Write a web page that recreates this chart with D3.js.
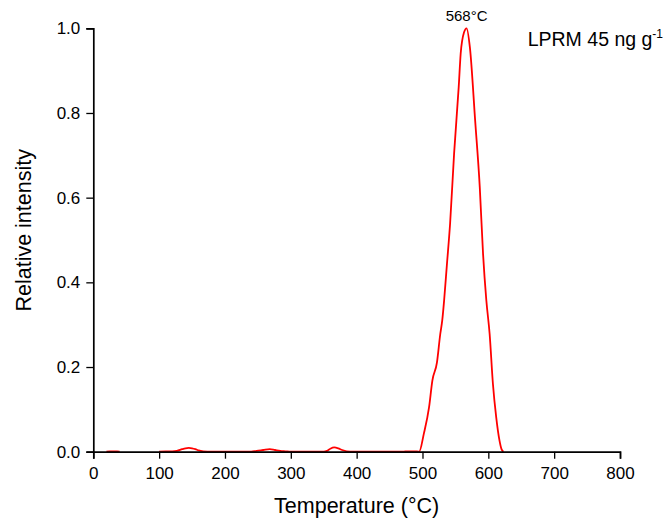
<!DOCTYPE html>
<meta charset="utf-8">
<script src="https://d3js.org/d3.v7.min.js"></script>
<style>
  body { margin: 0; background: #fff; }
  text { font-family: Arial, "Liberation Sans", sans-serif; }
</style>
<div id="my_dataviz"></div>
<script>
  // temperature (°C) and relative intensity
  var temps = [20, 25, 30, 36, 40, 60, 100, 110, 120, 127, 135, 140, 145, 150, 155, 160, 167, 180,
    240, 248, 258, 268, 276, 284, 292, 300, 350, 355, 360, 366, 372, 378, 385, 395,
    470, 478, 488, 495, 502, 510, 515, 522, 527, 530, 533, 537, 542, 548, 555, 558, 563, 567,
    572, 580, 587, 592, 597, 602, 607, 612, 617, 620, 623];
  var intensity = [0, 0.001, 0.001, 0.0005, 0, 0, 0, 0.001, 0.001, 0.002, 0.006, 0.008, 0.009, 0.008, 0.006, 0.003, 0.001, 0,
    0, 0.002, 0.004, 0.006, 0.004, 0.002, 0.001, 0, 0, 0.002, 0.007, 0.010, 0.008, 0.004, 0.001, 0,
    0, 0.001, 0.001, 0, 0.042, 0.105, 0.168, 0.211, 0.278, 0.31, 0.36, 0.44, 0.54, 0.704, 0.861, 0.94, 0.99, 1.0,
    0.955, 0.782, 0.625, 0.467, 0.357, 0.278, 0.160, 0.081, 0.026, 0.006, 0];
  var xTicks = [0, 100, 200, 300, 400, 500, 600, 700, 800];
  var yTicks = [0.0, 0.2, 0.4, 0.6, 0.8, 1.0];

  var data = temps.map(function(t, i) { return { t: t, v: intensity[i] }; });

  var W = 669, H = 519;
  var margin = { top: 28.3, right: 49, bottom: 67.3, left: 93.3 },
    width = W - margin.left - margin.right,
    height = H - margin.top - margin.bottom;

  var svg = d3.select("#my_dataviz").append("svg")
    .attr("width", W).attr("height", H)
    .append("g")
    .attr("transform", "translate(" + margin.left + "," + margin.top + ")");

  var x = d3.scaleLinear().domain([0, 800]).range([0, width]);
  var y = d3.scaleLinear().domain([0, 1]).range([height, 0]);

  // the curve - skip long flat runs at zero so the axis line stays black there
  var line = d3.line()
    .defined(function(d, i) {
      return d.v > 0 || (i > 0 && data[i - 1].v > 0) || (i < data.length - 1 && data[i + 1].v > 0);
    })
    .x(function(d) { return x(d.t); })
    .y(function(d) { return y(d.v); })
    .curve(d3.curveMonotoneX);
  svg.append("path").datum(data)
    .attr("fill", "none").attr("stroke", "#ff0000").attr("stroke-width", 1.8)
    .attr("d", line);

  // minor ticks, then major ticks with labels
  var xMinor = d3.range(50, 800, 100);
  var yMinor = d3.range(0.1, 1, 0.2);
  var xAxisG = svg.append("g").attr("transform", "translate(0," + height + ")");
  xAxisG.call(d3.axisBottom(x).tickValues(xMinor).tickSize(3.5).tickFormat(""));
  xAxisG.call(d3.axisBottom(x).tickValues(xTicks).tickSize(7).tickPadding(8).tickFormat(d3.format("d")));
  var yAxisG = svg.append("g");
  yAxisG.call(d3.axisLeft(y).tickValues(yMinor).tickSize(3.5).tickFormat(""));
  yAxisG.call(d3.axisLeft(y).tickValues(yTicks).tickSize(7).tickPadding(6).tickFormat(d3.format(".1f")));

  svg.selectAll(".domain").attr("stroke-width", 1.7);
  svg.selectAll(".tick line").attr("stroke-width", 1.3);
  svg.selectAll(".tick text").style("font-size", "17px").attr("fill", "#000");

  // axis titles
  svg.append("text")
    .attr("x", width / 2).attr("y", height + 61.3)
    .attr("text-anchor", "middle").style("font-size", "21.5px")
    .text("Temperature (°C)");
  svg.append("text")
    .attr("transform", "rotate(-90)")
    .attr("x", -202).attr("y", -62.6)
    .attr("text-anchor", "middle").style("font-size", "21.5px")
    .text("Relative intensity");

  // peak label
  svg.append("text")
    .attr("x", x(567)).attr("y", 21 - margin.top)
    .attr("text-anchor", "middle").style("font-size", "15px")
    .text("568°C");

  // sample label
  var lab = svg.append("text")
    .attr("x", 527.7 - margin.left).attr("y", 45.7 - margin.top)
    .style("font-size", "19.5px");
  lab.append("tspan").text("LPRM 45 ng g");
  lab.append("tspan").attr("dy", -8).style("font-size", "12px").text("-1");
</script>
